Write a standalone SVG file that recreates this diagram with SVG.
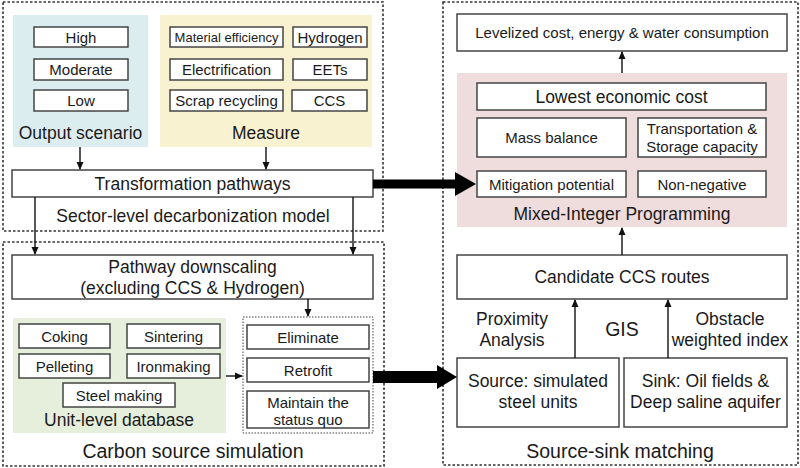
<svg xmlns="http://www.w3.org/2000/svg" width="800" height="468" viewBox="0 0 800 468">
<defs>
<style>
text{font-family:"Liberation Sans",Arial,sans-serif;fill:#1a1a1a;text-anchor:middle;dominant-baseline:central}
.b{fill:#fff;stroke:#444;stroke-width:1.5}
.o{fill:none;stroke:#333;stroke-width:1.6;stroke-dasharray:2.5 2}
.oi{fill:none;stroke:#444;stroke-width:1;stroke-dasharray:1.5 1.5}
.s15{font-size:15px}
.s13{font-size:13px}
.s17{font-size:17.5px}
.s19{font-size:19.5px}
.ln{fill:none;stroke:#111;stroke-width:1.4}
</style>
<marker id="ah" markerWidth="8" markerHeight="8" refX="7" refY="4" orient="auto" markerUnits="userSpaceOnUse"><path d="M0,0.5 L8,4 L0,7.5 Z" fill="#111"/></marker>
</defs>

<!-- Outer dashed sections -->
<g id="sector-model">
<rect class="o" x="3" y="2" width="380" height="229"/>
<text class="s17" x="193" y="216">Sector-level decarbonization model</text>
</g>
<g id="carbon-source">
<rect class="o" x="3" y="242" width="381" height="224"/>
<text class="s19" x="193" y="451">Carbon source simulation</text>
</g>
<g id="source-sink">
<rect class="o" x="443" y="2" width="355" height="463"/>
<text class="s19" x="620" y="451">Source-sink matching</text>
</g>

<!-- Output scenario -->
<g id="output-scenario">
<rect x="13" y="15" width="135" height="132" fill="#dcedf0"/>
<rect class="b" x="34" y="27" width="94" height="20"/><text class="s15" x="81" y="37">High</text>
<rect class="b" x="34" y="59" width="94" height="21"/><text class="s15" x="81" y="69.5">Moderate</text>
<rect class="b" x="34" y="90" width="94" height="21"/><text class="s15" x="81" y="100.5">Low</text>
<text class="s17" x="80.5" y="133">Output scenario</text>
</g>

<!-- Measure -->
<g id="measure">
<rect x="160" y="15" width="212" height="132" fill="#f8f2d0"/>
<rect class="b" x="170" y="27" width="113" height="20"/><text class="s13" x="226.5" y="37">Material efficiency</text>
<rect class="b" x="293" y="27" width="74" height="20"/><text class="s15" x="330" y="37">Hydrogen</text>
<rect class="b" x="170" y="59" width="113" height="21"/><text class="s15" x="226.5" y="69.5">Electrification</text>
<rect class="b" x="293" y="59" width="74" height="21"/><text class="s15" x="330" y="69.5">EETs</text>
<rect class="b" x="170" y="90" width="113" height="21"/><text class="s15" x="226.5" y="100.5">Scrap recycling</text>
<rect class="b" x="292" y="90" width="75" height="21"/><text class="s15" x="329.5" y="100.5">CCS</text>
<text class="s17" x="266" y="133">Measure</text>
</g>

<g id="transformation">
<rect class="b" x="12" y="170" width="361" height="27"/>
<text class="s17" x="192.5" y="183.5">Transformation pathways</text>
</g>

<g id="pathway-downscaling">
<rect class="b" x="12" y="255" width="361" height="44"/>
<text class="s17" x="192.5" y="267">Pathway downscaling</text>
<text class="s17" x="192.5" y="288">(excluding CCS &amp; Hydrogen)</text>
</g>

<g id="unit-database">
<rect x="13" y="318" width="213" height="115" fill="#e6efdc"/>
<rect class="b" x="19" y="324" width="91" height="24"/><text class="s15" x="64.5" y="336">Coking</text>
<rect class="b" x="127" y="324" width="93" height="24"/><text class="s15" x="173.5" y="336">Sintering</text>
<rect class="b" x="19" y="354" width="91" height="24"/><text class="s15" x="64.5" y="366">Pelleting</text>
<rect class="b" x="127" y="354" width="93" height="24"/><text class="s15" x="173.5" y="366">Ironmaking</text>
<rect class="b" x="63" y="383" width="112" height="24"/><text class="s15" x="119" y="395">Steel making</text>
<text class="s17" x="119" y="420">Unit-level database</text>
</g>

<g id="unit-options">
<rect class="oi" x="243" y="317" width="130" height="116"/>
<rect class="b" x="247" y="325" width="122" height="24"/><text class="s15" x="308" y="337">Eliminate</text>
<rect class="b" x="247" y="358" width="122" height="24"/><text class="s15" x="308" y="370">Retrofit</text>
<rect class="b" x="247" y="391" width="122" height="37"/><text class="s15" x="308" y="402">Maintain the</text><text class="s15" x="308" y="419">status quo</text>
</g>

<g id="levelized">
<rect class="b" x="457" y="14" width="330" height="37"/>
<text class="s15" x="622" y="32.5">Levelized cost, energy &amp; water consumption</text>
</g>

<g id="mip">
<rect x="457" y="73" width="330" height="154" fill="#efdcdc"/>
<rect class="b" x="477" y="83" width="289" height="27"/><text class="s17" x="621.5" y="96.5">Lowest economic cost</text>
<rect class="b" x="477" y="118" width="149" height="39"/><text class="s15" x="551.5" y="137.5">Mass balance</text>
<rect class="b" x="638" y="118" width="128" height="39"/><text class="s15" x="702" y="128.5">Transportation &amp;</text><text class="s15" x="702" y="146.5">Storage capacity</text>
<rect class="b" x="477" y="171" width="149" height="26"/><text class="s15" x="551.5" y="184">Mitigation potential</text>
<rect class="b" x="638" y="171" width="128" height="26"/><text class="s15" x="702" y="184">Non-negative</text>
<text class="s17" x="622" y="214">Mixed-Integer Programming</text>
</g>

<g id="candidate-routes">
<rect class="b" x="457" y="255" width="330" height="44"/>
<text class="s17" x="622" y="277">Candidate CCS routes</text>
</g>

<g id="source">
<rect class="b" x="457" y="358" width="162" height="69"/>
<text class="s17" x="538" y="381">Source: simulated</text>
<text class="s17" x="538" y="402">steel units</text>
</g>
<g id="sink">
<rect class="b" x="624" y="358" width="163" height="69"/>
<text class="s17" x="705.5" y="381">Sink: Oil fields &amp;</text>
<text class="s17" x="705.5" y="402">Deep saline aquifer</text>
</g>

<g id="gis-labels">
<text class="s17" x="512" y="319">Proximity</text>
<text class="s17" x="512" y="340">Analysis</text>
<text class="s19" x="622" y="329">GIS</text>
<text class="s17" x="730" y="319">Obstacle</text>
<text class="s17" x="730" y="340">weighted index</text>
</g>

<g id="connectors">
<line class="ln" x1="80" y1="147" x2="80" y2="169" marker-end="url(#ah)"/>
<line class="ln" x1="266" y1="147" x2="266" y2="169" marker-end="url(#ah)"/>
<line class="ln" x1="35" y1="197" x2="35" y2="254" marker-end="url(#ah)"/>
<line class="ln" x1="353" y1="197" x2="353" y2="254" marker-end="url(#ah)"/>
<line class="ln" x1="308" y1="299" x2="308" y2="316" marker-end="url(#ah)"/>
<line class="ln" x1="226" y1="376" x2="242" y2="376" marker-end="url(#ah)"/>
<line class="ln" x1="622" y1="73" x2="622" y2="52" marker-end="url(#ah)"/>
<line class="ln" x1="622" y1="255" x2="622" y2="228" marker-end="url(#ah)"/>
<line class="ln" x1="575" y1="358" x2="575" y2="300" marker-end="url(#ah)"/>
<line class="ln" x1="668" y1="358" x2="668" y2="300" marker-end="url(#ah)"/>
<path d="M373,179.5 H455 V172 L476,184 L455,196 V188.5 H373 Z" fill="#000"/>
<path d="M373,371 H437 V365 L457,377 L437,389 V383 H373 Z" fill="#000"/>
</g>
</svg>
